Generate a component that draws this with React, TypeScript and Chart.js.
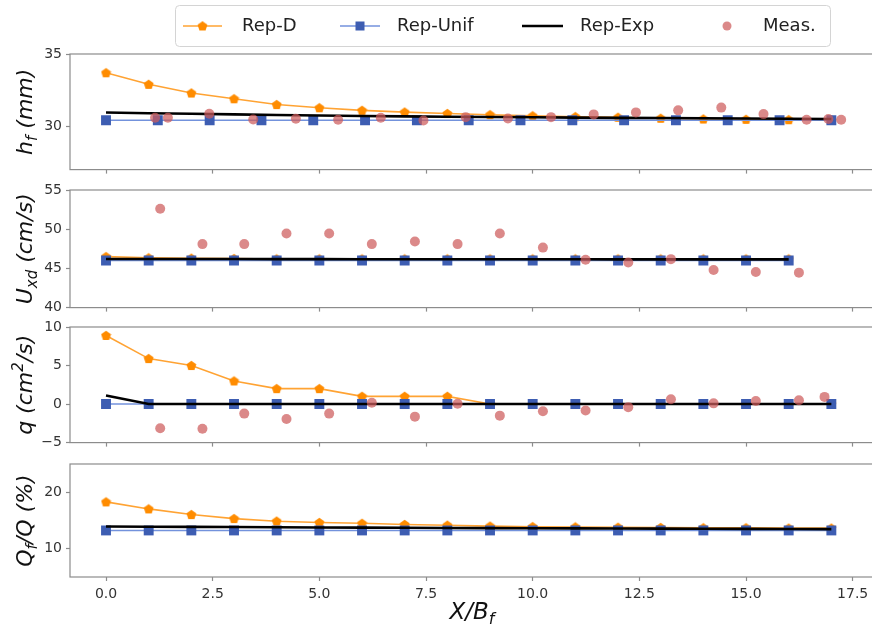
import React, { useEffect, useRef } from 'react';
import { Chart, registerables } from 'chart.js';

Chart.register(...registerables);

// ---------------- data ----------------
const xTickValues = [0, 2.5, 5, 7.5, 10, 12.5, 15, 17.5];
const X_MIN = -0.844;
const X_MAX = 18.14;

const repX18 = [0, 1, 2, 3, 4, 5, 6, 7, 8, 9, 10, 11, 12, 13, 14, 15, 16, 17];
const repX17 = [0, 1, 2, 3, 4, 5, 6, 7, 8, 9, 10, 11, 12, 13, 14, 15, 16];
const unifX15 = [0, 1.214, 2.429, 3.643, 4.857, 6.071, 7.286, 8.5, 9.714, 10.929, 12.143, 13.357, 14.571, 15.786, 17];

// panel 1: h_f (mm)
const hfRepD = [33.7, 32.9, 32.3, 31.9, 31.5, 31.28, 31.1, 30.98, 30.88, 30.8, 30.72, 30.66, 30.62, 30.55, 30.5, 30.48, 30.45, 30.42];
const hfUnif = [30.42, 30.42, 30.42, 30.42, 30.42, 30.42, 30.42, 30.42, 30.42, 30.42, 30.42, 30.42, 30.42, 30.42, 30.42];
const hfExp = [30.95, 30.9, 30.86, 30.82, 30.78, 30.74, 30.71, 30.68, 30.66, 30.64, 30.62, 30.6, 30.58, 30.57, 30.55, 30.54, 30.52, 30.5];
const hfMeasX = [1.15, 1.45, 2.42, 3.45, 4.45, 5.44, 6.44, 7.44, 8.43, 9.42, 10.43, 11.43, 12.42, 13.41, 14.42, 15.41, 16.42, 16.93, 17.23];
const hfMeas = [30.59, 30.59, 30.87, 30.47, 30.52, 30.45, 30.59, 30.4, 30.63, 30.54, 30.63, 30.82, 30.96, 31.1, 31.29, 30.84, 30.45, 30.5, 30.45];

// panel 2: U_xd (cm/s)
const uRepD = [46.5, 46.35, 46.3, 46.25, 46.2, 46.2, 46.2, 46.2, 46.2, 46.2, 46.2, 46.2, 46.2, 46.2, 46.2, 46.2, 46.2];
const uUnif = [46.0, 46.0, 46.0, 46.0, 46.0, 46.0, 46.0, 46.0, 46.0, 46.0, 46.0, 46.0, 46.0, 46.0, 46.0, 46.0, 46.0];
const uExp = [46.2, 46.2, 46.19, 46.19, 46.18, 46.18, 46.17, 46.17, 46.17, 46.16, 46.16, 46.16, 46.15, 46.15, 46.15, 46.15, 46.15];
const uMeasX = [1.27, 2.26, 3.24, 4.23, 5.23, 6.23, 7.24, 8.24, 9.23, 10.24, 11.24, 12.24, 13.24, 14.24, 15.23, 16.24];
const uMeas = [52.6, 48.1, 48.1, 49.46, 49.46, 48.1, 48.44, 48.1, 49.46, 47.65, 46.1, 45.75, 46.18, 44.8, 44.54, 44.46];

// panel 3: q (cm2/s)
const qRepD = [8.9, 5.9, 5.0, 3.0, 2.0, 2.0, 1.0, 1.0, 1.0, 0, 0, 0, 0, 0, 0, 0, 0, 0];
const qUnif = [0, 0, 0, 0, 0, 0, 0, 0, 0, 0, 0, 0, 0, 0, 0, 0, 0, 0];
const qExp = [1.1, 0, 0, 0, 0, 0, 0, 0, 0, 0, 0, 0, 0, 0, 0, 0, 0, 0];
const qMeasX = [1.27, 2.26, 3.24, 4.23, 5.23, 6.23, 7.24, 8.24, 9.23, 10.24, 11.24, 12.24, 13.24, 14.24, 15.23, 16.24, 16.84];
const qMeas = [-3.13, -3.2, -1.24, -1.94, -1.24, 0.18, -1.63, 0.05, -1.5, -0.93, -0.84, -0.4, 0.62, 0.09, 0.4, 0.49, 0.93];

// panel 4: Q_f/Q (%)
const QRepD = [18.29, 17.05, 16.05, 15.34, 14.88, 14.64, 14.5, 14.3, 14.17, 14.0, 13.9, 13.85, 13.8, 13.75, 13.7, 13.7, 13.65, 13.65];
const QUnif = [13.24, 13.24, 13.24, 13.24, 13.24, 13.24, 13.24, 13.24, 13.24, 13.24, 13.24, 13.24, 13.24, 13.24, 13.24, 13.24, 13.24, 13.24];
const QExp = [13.94, 13.9, 13.87, 13.84, 13.8, 13.77, 13.74, 13.71, 13.68, 13.65, 13.62, 13.6, 13.58, 13.56, 13.54, 13.52, 13.5, 13.48];

const hfTicks = [30, 35];
const uTicks = [40, 45, 50, 55];
const qTicks = [-5, 0, 5, 10];
const QTicks = [10, 20];

const legendLabels = ['Rep-D', 'Rep-Unif', 'Rep-Exp', 'Meas.'];

// ---------------- styles ----------------
const FONT = '"DejaVu Sans", sans-serif';
const ORANGE = '#ff8c00';
const ORANGE_LINE = 'rgba(255,140,0,0.8)';
const BLUE = '#3d5db2';
const BLUE_LINE = '#7392dc';
const MEAS = 'rgba(205,92,92,0.72)';
const SPINE = '#8c8c8c';
const TICK_TEXT = '#333333';

type Seg = { t: string; k?: 'sub' | 'sup' };

function drawRich(ctx: CanvasRenderingContext2D, segs: Seg[], x: number, y: number, size: number, rotate: boolean) {
  ctx.save();
  ctx.translate(x, y);
  if (rotate) ctx.rotate(-Math.PI / 2);
  const fonts = segs.map((s) => `italic ${s.k ? Math.round(size * 0.7) : size}px ${FONT}`);
  let total = 0;
  const widths = segs.map((s, i) => {
    ctx.font = fonts[i];
    const w = ctx.measureText(s.t).width;
    total += w;
    return w;
  });
  let cx = -total / 2;
  ctx.textAlign = 'left';
  ctx.textBaseline = 'alphabetic';
  ctx.fillStyle = '#111111';
  segs.forEach((s, i) => {
    ctx.font = fonts[i];
    const dy = s.k === 'sub' ? size * 0.22 : s.k === 'sup' ? -size * 0.4 : 0;
    ctx.fillText(s.t, cx, dy);
    cx += widths[i];
  });
  ctx.restore();
}

function makePentagon(): HTMLCanvasElement {
  const c = document.createElement('canvas');
  c.width = 11;
  c.height = 11;
  const g = c.getContext('2d')!;
  g.fillStyle = ORANGE;
  g.beginPath();
  for (let i = 0; i < 5; i++) {
    const a = -Math.PI / 2 + (i * 2 * Math.PI) / 5;
    const px = 5.5 + 5.2 * Math.cos(a);
    const py = 5.9 + 5.2 * Math.sin(a);
    if (i === 0) g.moveTo(px, py);
    else g.lineTo(px, py);
  }
  g.closePath();
  g.fill();
  return c;
}

const pts = (xs: number[], ys: number[]) => xs.map((x, i) => ({ x, y: ys[i] }));

interface PanelSpec {
  top: number;
  height: number;
  padTop: number;
  xAxisH: number;
  yMin: number;
  yMax: number;
  yTicks: number[];
  title: Seg[];
  showX: boolean;
  legend?: boolean;
  xTitle?: boolean;
  repD: { x: number; y: number }[];
  unif: { x: number; y: number }[];
  exp: { x: number; y: number }[];
  meas?: { x: number; y: number }[];
}

const panels: PanelSpec[] = [
  {
    top: 0, height: 182, padTop: 54, xAxisH: 8, yMin: 27, yMax: 35, yTicks: hfTicks,
    title: [{ t: 'h' }, { t: 'f', k: 'sub' }, { t: ' (mm)' }], showX: false, legend: true,
    repD: pts(repX18, hfRepD), unif: pts(unifX15, hfUnif), exp: pts(repX18, hfExp), meas: pts(hfMeasX, hfMeas),
  },
  {
    top: 170, height: 150, padTop: 20, xAxisH: 8, yMin: 40, yMax: 55, yTicks: uTicks,
    title: [{ t: 'U' }, { t: 'xd', k: 'sub' }, { t: ' (cm/s)' }], showX: false,
    repD: pts(repX17, uRepD), unif: pts(repX17, uUnif), exp: pts(repX17, uExp), meas: pts(uMeasX, uMeas),
  },
  {
    top: 307, height: 148, padTop: 20, xAxisH: 8, yMin: -5, yMax: 10, yTicks: qTicks,
    title: [{ t: 'q (cm' }, { t: '2', k: 'sup' }, { t: '/s)' }], showX: false,
    repD: pts(repX18, qRepD), unif: pts(repX18, qUnif), exp: pts(repX18, qExp), meas: pts(qMeasX, qMeas),
  },
  {
    top: 444, height: 183, padTop: 20, xAxisH: 50, yMin: 5, yMax: 25, yTicks: QTicks,
    title: [{ t: 'Q' }, { t: 'f', k: 'sub' }, { t: '/Q (%)' }], showX: true, xTitle: true,
    repD: pts(repX18, QRepD), unif: pts(repX18, QUnif), exp: pts(repX18, QExp),
  },
];

function drawLegend(ctx: CanvasRenderingContext2D, pent: HTMLCanvasElement) {
  ctx.save();
  const bx = 175.5, by = 5.5, bw = 655, bh = 41, r = 4;
  ctx.beginPath();
  ctx.moveTo(bx + r, by);
  ctx.arcTo(bx + bw, by, bx + bw, by + bh, r);
  ctx.arcTo(bx + bw, by + bh, bx, by + bh, r);
  ctx.arcTo(bx, by + bh, bx, by, r);
  ctx.arcTo(bx, by, bx + bw, by, r);
  ctx.closePath();
  ctx.fillStyle = '#ffffff';
  ctx.fill();
  ctx.strokeStyle = '#d4d4d4';
  ctx.lineWidth = 1;
  ctx.stroke();
  const cy = 26;
  // Rep-D
  ctx.strokeStyle = ORANGE_LINE;
  ctx.lineWidth = 1.6;
  ctx.beginPath(); ctx.moveTo(183, cy); ctx.lineTo(222, cy); ctx.stroke();
  ctx.drawImage(pent, 202.5 - pent.width / 2, cy - pent.height / 2);
  // Rep-Unif
  ctx.strokeStyle = BLUE_LINE;
  ctx.lineWidth = 1.5;
  ctx.beginPath(); ctx.moveTo(340, cy); ctx.lineTo(380, cy); ctx.stroke();
  ctx.fillStyle = BLUE;
  ctx.fillRect(360 - 4.5, cy - 4.5, 9, 9);
  // Rep-Exp
  ctx.strokeStyle = '#000000';
  ctx.lineWidth = 2.6;
  ctx.beginPath(); ctx.moveTo(522, cy); ctx.lineTo(563, cy); ctx.stroke();
  // Meas.
  ctx.fillStyle = MEAS;
  ctx.beginPath(); ctx.arc(727, cy, 4.5, 0, Math.PI * 2); ctx.fill();
  ctx.fillStyle = '#222222';
  ctx.font = `18px ${FONT}`;
  ctx.textBaseline = 'middle';
  ctx.textAlign = 'left';
  const tx = [242, 397, 580, 763];
  legendLabels.forEach((l, i) => ctx.fillText(l, tx[i], cy));
  ctx.restore();
}

export default function App() {
  const refs = useRef<(HTMLCanvasElement | null)[]>([]);

  useEffect(() => {
    const pent = makePentagon();
    const charts: Chart[] = [];
    panels.forEach((p, idx) => {
      const canvas = refs.current[idx];
      if (!canvas) return;
      const decor = {
        id: 'decor' + idx,
        afterDraw(chart: any) {
          const ctx: CanvasRenderingContext2D = chart.ctx;
          const a = chart.chartArea;
          ctx.save();
          ctx.strokeStyle = SPINE;
          ctx.lineWidth = 1.2;
          ctx.strokeRect(a.left, a.top, a.right - a.left, a.bottom - a.top);
          ctx.restore();
          drawRich(ctx, p.title, 32, (a.top + a.bottom) / 2, 22, true);
          if (p.legend) drawLegend(ctx, pent);
          if (p.xTitle) drawRich(ctx, [{ t: 'X/B' }, { t: 'f', k: 'sub' }], 472, 619 - p.top, 23, false);
        },
      };
      const datasets: any[] = [
        {
          label: legendLabels[0], data: p.repD, borderColor: ORANGE_LINE, borderWidth: 1.6,
          pointStyle: pent, pointRadius: 5, pointBackgroundColor: ORANGE, pointBorderWidth: 0, order: 3,
        },
        {
          label: legendLabels[1], data: p.unif, borderColor: BLUE_LINE, borderWidth: 1.5,
          pointStyle: 'rect', pointRadius: 7, pointBackgroundColor: BLUE, pointBorderColor: BLUE, pointBorderWidth: 0, order: 2,
        },
        {
          label: legendLabels[2], data: p.exp, borderColor: '#000000', borderWidth: 2.6, pointRadius: 0, order: 1,
        },
      ];
      if (p.meas) {
        datasets.push({
          label: legendLabels[3], data: p.meas, showLine: false, pointStyle: 'circle', pointRadius: 5,
          pointBackgroundColor: MEAS, pointBorderWidth: 0, borderColor: MEAS, order: 0,
        });
      }
      const grid = {
        display: true, drawOnChartArea: false, drawTicks: true, tickLength: 4, tickColor: SPINE, tickWidth: 1.2,
      };
      const chart = new Chart(canvas, {
        type: 'line',
        data: { datasets },
        options: {
          animation: false,
          responsive: false,
          events: [],
          layout: { padding: { top: p.padTop, left: 0, right: 0, bottom: 0 }, autoPadding: false },
          plugins: { legend: { display: false }, tooltip: { enabled: false } },
          elements: { line: { tension: 0 } },
          scales: {
            x: {
              type: 'linear', min: X_MIN, max: X_MAX,
              afterBuildTicks: (s: any) => { s.ticks = xTickValues.map((v) => ({ value: v })); },
              afterFit: (s: any) => { s.height = p.xAxisH; },
              grid, border: { display: false },
              ticks: {
                display: p.showX, autoSkip: false, maxRotation: 0, padding: 5, color: TICK_TEXT,
                font: { family: FONT, size: 14 },
                callback: (v: any) => Number(v).toFixed(1),
              },
            },
            y: {
              type: 'linear', min: p.yMin, max: p.yMax,
              afterBuildTicks: (s: any) => { s.ticks = p.yTicks.map((v) => ({ value: v })); },
              afterFit: (s: any) => { s.width = 70; },
              grid, border: { display: false },
              ticks: {
                padding: 4, color: TICK_TEXT, font: { family: FONT, size: 14 },
                callback: (v: any) => String(v).replace('-', '\u2212'),
              },
            },
          },
        } as any,
        plugins: [decor],
      });
      charts.push(chart);
    });
    return () => charts.forEach((c) => c.destroy());
  }, []);

  return (
    <div style={{ position: 'fixed', left: 0, top: 0, width: 872, height: 627, overflow: 'hidden', background: '#ffffff' }}>
      {panels.map((p, i) => (
        <canvas
          key={i}
          ref={(el) => { refs.current[i] = el; }}
          width={880}
          height={p.height}
          style={{ position: 'absolute', left: 0, top: p.top, width: 880, height: p.height }}
        />
      ))}
    </div>
  );
}
